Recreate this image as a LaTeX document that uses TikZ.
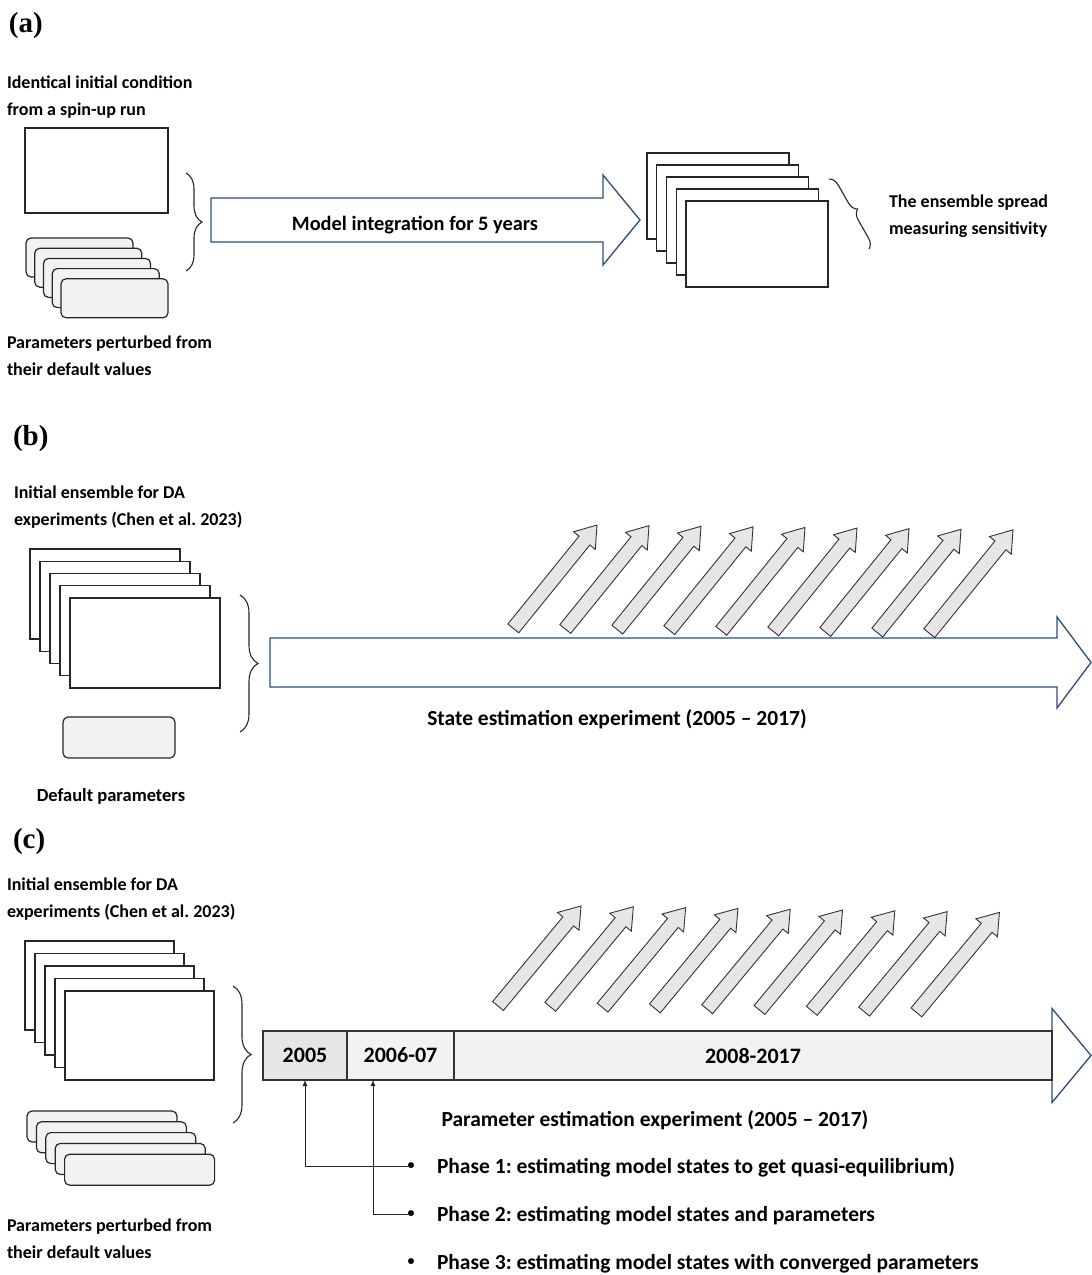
\documentclass[tikz,border=0pt]{standalone}
\usepackage{fontspec}
\setmainfont{Carlito}
\newfontfamily\panelfont{Liberation Serif}
\usetikzlibrary{arrows.meta, decorations.pathreplacing}
\frenchspacing

\definecolor{arrblue}{HTML}{2F4B7C}
\definecolor{cardgray}{HTML}{F2F2F2}
\definecolor{risergray}{HTML}{E6E6E6}

\begin{document}
\begin{tikzpicture}[
  >=Latex,
  x=1pt, y=-1pt, % 像素坐标:原点在左上角,y 向下
  every node/.style={inner sep=0pt, outer sep=0pt},
  lbl/.style={font=\fontsize{18}{27}\selectfont\bfseries, align=left, anchor=base west},
  mid/.style={font=\fontsize{18.5}{27}\selectfont\bfseries, anchor=base},
  big/.style={font=\fontsize{21.5}{27}\selectfont\bfseries},
  panel/.style={font=\panelfont\fontsize{29}{29}\selectfont\bfseries, anchor=base west},
  sheet/.style={draw=black!85, fill=white, line width=1.2pt},
  parcard/.style={draw=black!85, fill=cardgray, rounded corners=5pt, line width=1.2pt},
  bigarr/.style={draw=arrblue, fill=white, line width=1.3pt},
  diagarr/.style={draw=black!80, fill=risergray, line width=0.9pt},
  grpbrace/.style={decorate, decoration={brace, amplitude=#1}, draw=black!85, line width=1.1pt},
  cell/.style={draw=black!80, fill=cardgray, line width=1.1pt, minimum height=49pt, anchor=west,
               font=\fontsize{22}{24}\selectfont\bfseries},
  phaseline/.style={-{Latex[length=6pt,width=5pt]}, black!85, line width=0.8pt}
]
  \useasboundingbox (0,0) rectangle (1092,1275);

  % 叠放的一组卡片:#1 名称 #2 样式 #3,#4 最后面一张的中心 #5,#6 每张的偏移 #7 尺寸
  \newcommand{\sheetstack}[7]{%
    \foreach \k in {0,...,4}
      \node[#2, #7] (#1\k) at ({#3+\k*#5},{#4+\k*#6}) {};
  }

  % 横向大箭头:#1 起点x #2 中线y #3 箭头根x #4 尖端x #5 半宽 #6 箭头半宽
  \newcommand{\bigarrow}[6]{%
    \draw[bigarr] (#1,{#2-#5}) -- (#3,{#2-#5}) -- (#3,{#2-#6}) -- (#4,#2)
      -- (#3,{#2+#6}) -- (#3,{#2+#5}) -- (#1,{#2+#5}) -- cycle;
  }

  % 斜向小箭头:#1,#2 尾部中心 #3 长度 #4 角度
  \newcommand{\riser}[4]{%
    \begin{scope}[shift={(#1,#2)}, rotate=#4]
      \draw[diagarr] (0,-7) -- ({#3-20},-7) -- ({#3-20},-14) -- (#3,0)
        -- ({#3-20},14) -- ({#3-20},7) -- (0,7) -- cycle;
    \end{scope}
  }

  % ---------------- (a) ----------------
  \node[panel] (pa) at (9,32) {(a)};
  \node[lbl] (ictext) at (7,115) {Identical initial condition\\from a spin-up run};
  \node[sheet, minimum width=143pt, minimum height=85pt] (icbox) at (96.5,170.5) {};
  \sheetstack{pcard}{parcard}{79.5}{257.5}{8.75}{10.2}{minimum width=107pt, minimum height=39pt}
  \node[lbl] (pptext) at (7,375) {Parameters perturbed from\\their default values};

  \draw[grpbrace=16pt] (186,173) -- (186,271);
  \bigarrow{211}{220}{603}{640}{22}{45}
  \node[mid, font=\fontsize{20.4}{27}\selectfont\bfseries] (intext) at (415,230) {Model integration for 5 years};

  \sheetstack{ens}{sheet}{718}{196}{9.75}{12}{minimum width=142pt, minimum height=86pt}
  \draw[grpbrace=10pt] (829,179) -- (869,249);
  \node[lbl] (spread) at (889,234) {The ensemble spread\\measuring sensitivity};

  % ---------------- (b) ----------------
  \node[panel] (pb) at (13,445) {(b)};
  \node[lbl] (ietext) at (14,525) {Initial ensemble for DA\\experiments (Chen et al. 2023)};
  \sheetstack{bens}{sheet}{105}{594}{10}{12.25}{minimum width=150pt, minimum height=90pt}
  \node[parcard, minimum width=112pt, minimum height=41pt] (defpar) at (119,737.5) {};
  \node[mid] (deftext) at (111,801) {Default parameters};

  \draw[grpbrace=18pt] (240,595) -- (240,732);
  \bigarrow{270}{662.5}{1057}{1091}{24.5}{45.5}
  \foreach \i in {0,...,8} {
    \riser{513.3+52*\i}{628.4+0.6*\i}{133}{51}
  }
  \node[mid, big] (setext) at (617,725) {State estimation experiment (2005 -- 2017)};

  % ---------------- (c) ----------------
  \node[panel] (pc) at (13,848) {(c)};
  \node[lbl] (ietext2) at (7,917) {Initial ensemble for DA\\experiments (Chen et al. 2023)};
  \sheetstack{cens}{sheet}{99.5}{985.5}{10}{12.5}{minimum width=149pt, minimum height=89pt}
  \sheetstack{ccard}{parcard}{102}{1126.5}{9.4}{10.8}{minimum width=150pt, minimum height=31pt}
  \node[lbl] (pptext2) at (7,1258) {Parameters perturbed from\\their default values};

  \draw[grpbrace=18pt] (233,986) -- (233,1123);
  \bigarrow{263}{1055.5}{1052}{1091}{24.5}{47}
  \foreach \i in {0,...,8} {
    \riser{498+52.3*\i}{1006+0.8*\i}{130}{50.3}
  }

  % 时间段
  \node[cell, fill=risergray, minimum width=84pt] (y2005) at (263,1055.5) {2005};
  \node[cell, minimum width=107pt] (y0607) at (y2005.east) {2006-07};
  \node[cell, minimum width=598pt] (y0817) at (y0607.east) {2008-2017};

  \node[mid, big] (petext) at (655,1126) {Parameter estimation experiment (2005 -- 2017)};
  \node[lbl, big] (ph1) at (437,1173) {Phase 1: estimating model states to get quasi-equilibrium)};
  \node[lbl, big] (ph2) at (437,1221) {Phase 2: estimating model states and parameters};
  \node[lbl, big] (ph3) at (437,1269) {Phase 3: estimating model states with converged parameters};
  \foreach \p/\yy in {1/1166,2/1214,3/1262}
    \node[font=\fontsize{14}{16}\selectfont\bfseries] (bul\p) at (411,\yy) {•};

  \coordinate (y0607foot) at (373,1080);
  \draw[phaseline] (bul1.center) -| (y2005.south);
  \draw[phaseline] (bul2.center) -| (y0607foot);
\end{tikzpicture}
\end{document}
